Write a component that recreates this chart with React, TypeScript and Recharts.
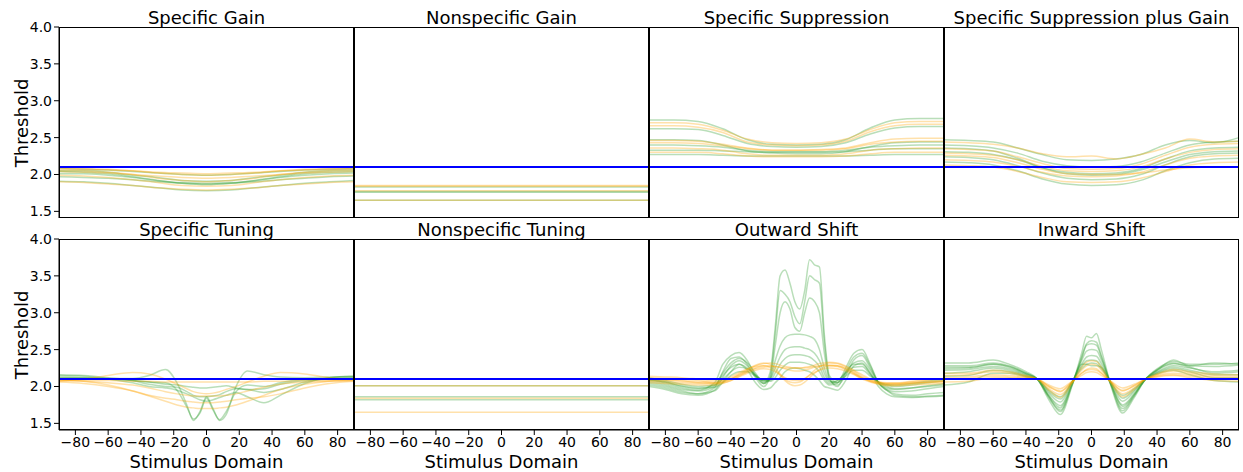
import React from "react";
import { LineChart, Line, XAxis, YAxis, ReferenceLine } from "recharts";

const FONT = "'DejaVu Sans', Verdana, sans-serif";
const BASELINE = 2.1;
const Y_DOMAIN: [number, number] = [1.41, 4.0];
const X_DOMAIN: [number, number] = [-90, 90];
const yTicks = [1.5, 2.0, 2.5, 3.0, 3.5, 4.0];
const xTicks = [-80, -60, -40, -20, 0, 20, 40, 60, 80];

const titles = [
  "Specific Gain",
  "Nonspecific Gain",
  "Specific Suppression",
  "Specific Suppression plus Gain",
  "Specific Tuning",
  "Nonspecific Tuning",
  "Outward Shift",
  "Inward Shift",
];

// --- Specific Gain ---
const specGainX = [-90, -75, -60, -45, -30, -15, 0, 15, 30, 45, 60, 75, 90];
const specGainGreen = [
  [2.08, 2.07, 2.06, 2.04, 2.02, 2.0, 1.99, 2.0, 2.02, 2.04, 2.06, 2.07, 2.08],
  [2.05, 2.05, 2.03, 1.99, 1.96, 1.92, 1.91, 1.92, 1.96, 1.99, 2.03, 2.05, 2.06],
  [2.01, 2.01, 1.99, 1.96, 1.92, 1.89, 1.88, 1.89, 1.92, 1.96, 1.99, 2.01, 2.02],
  [1.97, 1.96, 1.95, 1.93, 1.9, 1.88, 1.87, 1.88, 1.9, 1.93, 1.95, 1.97, 1.98],
  [1.91, 1.9, 1.88, 1.85, 1.82, 1.79, 1.78, 1.79, 1.82, 1.85, 1.88, 1.9, 1.92],
  [2.04, 2.03, 2.01, 1.97, 1.92, 1.88, 1.86, 1.88, 1.92, 1.97, 2.01, 2.03, 2.04],
];
const specGainOrange = [
  [2.09, 2.08, 2.07, 2.05, 2.02, 2.0, 1.99, 2.0, 2.02, 2.05, 2.07, 2.08, 2.09],
  [2.06, 2.05, 2.03, 2.0, 1.95, 1.92, 1.9, 1.92, 1.95, 2.0, 2.03, 2.05, 2.06],
  [2.04, 2.03, 2.02, 2.0, 1.98, 1.96, 1.95, 1.96, 1.98, 2.0, 2.02, 2.03, 2.04],
  [1.99, 1.98, 1.96, 1.93, 1.89, 1.85, 1.84, 1.85, 1.89, 1.93, 1.96, 1.98, 1.99],
  [1.9, 1.89, 1.87, 1.85, 1.82, 1.8, 1.79, 1.8, 1.82, 1.85, 1.87, 1.89, 1.9],
  [2.08, 2.07, 2.06, 2.05, 2.03, 2.02, 2.01, 2.02, 2.03, 2.05, 2.06, 2.07, 2.08],
];

// --- Nonspecific Gain (flat) ---
const nonGainX = [-90, 90];
const nonGainGreen = [
  [1.83, 1.83],
  [1.77, 1.77],
  [1.76, 1.76],
  [1.65, 1.65],
];
const nonGainOrange = [
  [1.85, 1.85],
  [1.84, 1.84],
  [1.78, 1.78],
  [1.65, 1.65],
];

// --- Specific Suppression ---
const specSuppX = [-90, -75, -60, -45, -30, -15, 0, 15, 30, 45, 60, 75, 90];
const specSuppGreen = [
  [2.74, 2.74, 2.72, 2.62, 2.47, 2.41, 2.4, 2.41, 2.47, 2.63, 2.74, 2.76, 2.76],
  [2.62, 2.62, 2.61, 2.53, 2.42, 2.38, 2.37, 2.38, 2.43, 2.55, 2.63, 2.65, 2.65],
  [2.47, 2.47, 2.46, 2.4, 2.32, 2.29, 2.28, 2.28, 2.31, 2.38, 2.43, 2.44, 2.44],
  [2.4, 2.4, 2.39, 2.37, 2.33, 2.31, 2.31, 2.31, 2.33, 2.37, 2.39, 2.4, 2.4],
  [2.33, 2.33, 2.33, 2.32, 2.31, 2.3, 2.3, 2.3, 2.31, 2.33, 2.35, 2.35, 2.35],
  [2.27, 2.27, 2.27, 2.26, 2.25, 2.25, 2.25, 2.25, 2.25, 2.26, 2.27, 2.27, 2.27],
];
const specSuppOrange = [
  [2.7, 2.7, 2.68, 2.6, 2.48, 2.43, 2.42, 2.43, 2.48, 2.61, 2.7, 2.72, 2.72],
  [2.66, 2.66, 2.64, 2.57, 2.44, 2.4, 2.39, 2.4, 2.45, 2.58, 2.66, 2.68, 2.68],
  [2.46, 2.46, 2.45, 2.41, 2.36, 2.33, 2.33, 2.34, 2.36, 2.43, 2.48, 2.49, 2.49],
  [2.36, 2.36, 2.35, 2.33, 2.28, 2.26, 2.26, 2.26, 2.28, 2.33, 2.35, 2.36, 2.36],
  [2.3, 2.3, 2.3, 2.28, 2.25, 2.24, 2.24, 2.24, 2.25, 2.28, 2.3, 2.3, 2.3],
  [2.43, 2.43, 2.42, 2.39, 2.35, 2.33, 2.33, 2.33, 2.35, 2.41, 2.44, 2.45, 2.45],
];

// --- Specific Suppression plus Gain ---
const suppGainX = [-90, -75, -60, -45, -30, -15, 0, 15, 30, 45, 60, 75, 90];
const suppGainGreen = [
  [2.47, 2.46, 2.44, 2.36, 2.27, 2.2, 2.19, 2.21, 2.27, 2.4, 2.46, 2.43, 2.5],
  [2.4, 2.39, 2.36, 2.29, 2.18, 2.12, 2.1, 2.11, 2.17, 2.29, 2.4, 2.44, 2.45],
  [2.31, 2.3, 2.27, 2.2, 2.09, 2.03, 2.01, 2.02, 2.08, 2.21, 2.32, 2.36, 2.37],
  [2.24, 2.23, 2.2, 2.12, 2.02, 1.95, 1.93, 1.94, 2.0, 2.13, 2.24, 2.28, 2.29],
  [2.17, 2.16, 2.13, 2.05, 1.94, 1.87, 1.85, 1.86, 1.92, 2.05, 2.16, 2.21, 2.22],
  [2.36, 2.35, 2.32, 2.22, 2.09, 2.01, 1.99, 2.0, 2.06, 2.17, 2.27, 2.31, 2.32],
];
const suppGainOrange = [
  [2.44, 2.43, 2.41, 2.36, 2.28, 2.24, 2.25, 2.21, 2.27, 2.36, 2.48, 2.44, 2.45],
  [2.35, 2.34, 2.32, 2.24, 2.15, 2.08, 2.07, 2.08, 2.14, 2.26, 2.37, 2.41, 2.42],
  [2.29, 2.28, 2.26, 2.2, 2.11, 2.05, 2.04, 2.05, 2.1, 2.21, 2.3, 2.34, 2.35],
  [2.2, 2.19, 2.17, 2.11, 2.03, 1.98, 1.97, 1.98, 2.03, 2.13, 2.22, 2.25, 2.26],
  [2.13, 2.12, 2.1, 2.04, 1.96, 1.9, 1.89, 1.9, 1.95, 2.04, 2.13, 2.16, 2.17],
  [2.26, 2.25, 2.23, 2.16, 2.07, 2.01, 2.0, 2.0, 2.02, 2.06, 2.09, 2.1, 2.1],
];

// --- Specific Tuning ---
const specTuneX = [-90, -75, -60, -45, -35, -25, -18, -12, -8, -4, 0, 4, 8, 12, 18, 25, 35, 45, 60, 75, 90];
const specTuneGreen = [
  [2.13, 2.12, 2.11, 2.11, 2.15, 2.23, 2.05, 1.75, 1.54, 1.66, 1.86, 1.7, 1.54, 1.62, 2.0, 2.21, 2.16, 2.13, 2.12, 2.13, 2.13],
  [2.11, 2.11, 2.1, 2.08, 2.06, 2.05, 1.95, 1.72, 1.56, 1.64, 1.84, 1.68, 1.55, 1.66, 1.93, 2.02, 2.0, 2.05, 2.1, 2.11, 2.11],
  [2.15, 2.14, 2.1, 2.05, 2.0, 1.98, 1.95, 1.9, 1.86, 1.82, 1.8, 1.82, 1.85, 1.88, 1.92, 1.86, 1.78, 1.88, 2.04, 2.12, 2.14],
  [2.12, 2.12, 2.11, 2.08, 2.06, 2.03, 2.02, 2.0, 1.99, 1.98, 1.98, 1.99, 2.0, 2.01, 1.98, 1.96, 1.97, 2.03, 2.08, 2.1, 2.12],
  [2.16, 2.15, 2.12, 2.08, 2.03, 2.0, 1.99, 1.93, 1.88, 1.86, 1.86, 1.87, 1.89, 1.93, 1.97, 1.96, 1.92, 1.96, 2.06, 2.12, 2.14],
];
const specTuneOrange = [
  [2.09, 2.07, 2.02, 1.94, 1.87, 1.8, 1.75, 1.72, 1.71, 1.7, 1.7, 1.7, 1.71, 1.72, 1.75, 1.8, 1.88, 1.96, 2.03, 2.07, 2.09],
  [2.08, 2.07, 2.05, 2.02, 1.98, 1.93, 1.9, 1.88, 1.87, 1.87, 1.87, 1.87, 1.87, 1.88, 1.9, 1.94, 1.99, 2.03, 2.06, 2.07, 2.08],
  [2.07, 2.1, 2.15, 2.19, 2.17, 2.1, 2.03, 1.97, 1.93, 1.91, 1.9, 1.91, 1.93, 1.96, 2.0, 2.06, 2.14, 2.19, 2.17, 2.12, 2.1],
  [2.06, 2.04, 2.0, 1.94, 1.88, 1.84, 1.82, 1.8, 1.79, 1.78, 1.78, 1.78, 1.79, 1.8, 1.82, 1.84, 1.86, 1.9, 1.98, 2.04, 2.07],
  [2.08, 2.08, 2.08, 2.07, 2.07, 2.06, 2.06, 2.06, 2.06, 2.06, 2.06, 2.06, 2.06, 2.06, 2.06, 2.06, 2.07, 2.07, 2.08, 2.08, 2.08],
];

// --- Nonspecific Tuning (flat) ---
const nonTuneX = [-90, 90];
const nonTuneGreen = [
  [2.01, 2.01],
  [1.86, 1.86],
  [1.82, 1.82],
];
const nonTuneOrange = [
  [2.01, 2.01],
  [1.84, 1.84],
  [1.65, 1.65],
];

// --- Outward Shift ---
const outShiftX = [-90, -80, -70, -60, -50, -45, -40, -35, -30, -25, -20, -16, -13, -10, -7, -4, -1, 2, 5, 8, 11, 14, 17, 20, 25, 30, 35, 40, 45, 50, 55, 60, 70, 80, 90];
const outShiftGreen = [
  [2.08, 2.04, 1.98, 1.95, 2.05, 2.3, 2.42, 2.46, 2.35, 2.15, 2.04, 2.2, 2.8, 3.5, 3.58, 3.4, 3.15, 3.05, 3.3, 3.72, 3.65, 3.62, 2.7, 2.15, 2.05, 2.25, 2.45, 2.5, 2.3, 2.05, 1.95, 1.9, 1.88, 1.9, 1.92],
  [2.02, 1.98, 1.92, 1.9, 1.98, 2.2, 2.38, 2.4, 2.3, 2.12, 2.0, 2.15, 2.7, 3.3, 3.25, 3.15, 2.95, 2.85, 3.15, 3.5, 3.45, 3.4, 2.6, 2.12, 2.0, 2.2, 2.4, 2.45, 2.28, 2.05, 1.95, 1.88, 1.86, 1.87, 1.88],
  [2.1, 2.06, 2.0, 1.97, 2.02, 2.18, 2.32, 2.38, 2.32, 2.18, 2.05, 2.12, 2.55, 3.0, 3.15, 3.05, 2.8, 2.75, 3.0, 3.2, 3.15, 3.0, 2.45, 2.1, 2.02, 2.15, 2.36, 2.42, 2.25, 2.06, 2.0, 1.97, 1.98, 2.0, 2.02],
  [2.0, 1.96, 1.9, 1.88, 1.95, 2.12, 2.28, 2.35, 2.28, 2.14, 2.04, 2.1, 2.35, 2.55, 2.66, 2.7, 2.71, 2.71, 2.7, 2.68, 2.64, 2.5, 2.25, 2.08, 2.05, 2.18, 2.32, 2.35, 2.22, 2.05, 1.96, 1.93, 1.94, 1.97, 2.0],
  [2.06, 2.02, 1.96, 1.94, 2.0, 2.15, 2.26, 2.3, 2.25, 2.15, 2.07, 2.1, 2.25, 2.4, 2.5, 2.53, 2.54, 2.54, 2.52, 2.5, 2.45, 2.35, 2.18, 2.06, 2.08, 2.2, 2.3, 2.3, 2.18, 2.04, 1.98, 1.96, 1.98, 2.01, 2.04],
  [2.12, 2.08, 2.03, 2.0, 2.02, 2.1, 2.2, 2.26, 2.24, 2.16, 2.08, 2.08, 2.18, 2.3, 2.38, 2.42, 2.43, 2.43, 2.42, 2.4, 2.35, 2.27, 2.12, 2.04, 2.08, 2.18, 2.26, 2.27, 2.16, 2.06, 2.02, 2.0, 2.02, 2.05, 2.08],
  [2.09, 2.06, 2.01, 1.98, 1.99, 2.05, 2.15, 2.2, 2.2, 2.14, 2.08, 2.07, 2.12, 2.22, 2.29, 2.33, 2.33, 2.33, 2.32, 2.3, 2.27, 2.2, 2.08, 2.02, 2.05, 2.14, 2.22, 2.22, 2.14, 2.06, 2.03, 2.02, 2.04, 2.07, 2.1],
  [2.04, 2.0, 1.94, 1.9, 1.94, 2.06, 2.2, 2.3, 2.22, 2.05, 1.96, 1.98, 2.05, 2.12, 2.2, 2.24, 2.25, 2.24, 2.22, 2.2, 2.15, 2.08, 2.0, 1.98, 1.95, 2.08, 2.28, 2.32, 2.18, 2.0, 1.9, 1.86, 1.85, 1.86, 1.87],
];
const outShiftOrange = [
  [2.12, 2.11, 2.1, 2.08, 2.05, 2.06, 2.1, 2.16, 2.22, 2.28, 2.31, 2.32, 2.31, 2.29, 2.27, 2.26, 2.25, 2.25, 2.26, 2.27, 2.29, 2.31, 2.32, 2.33, 2.32, 2.28, 2.22, 2.16, 2.1, 2.06, 2.04, 2.04, 2.06, 2.08, 2.09],
  [2.08, 2.08, 2.07, 2.05, 2.04, 2.05, 2.08, 2.14, 2.2, 2.25, 2.28, 2.26, 2.22, 2.15, 2.08, 2.03, 2.01, 2.02, 2.06, 2.12, 2.18, 2.23, 2.26, 2.28, 2.28, 2.25, 2.19, 2.12, 2.07, 2.04, 2.02, 2.02, 2.04, 2.06, 2.07],
  [2.05, 2.04, 2.03, 2.02, 2.02, 2.04, 2.08, 2.13, 2.18, 2.22, 2.24, 2.23, 2.2, 2.16, 2.12, 2.09, 2.08, 2.08, 2.11, 2.15, 2.19, 2.22, 2.24, 2.25, 2.24, 2.21, 2.16, 2.1, 2.06, 2.03, 2.01, 2.01, 2.02, 2.03, 2.04],
  [2.1, 2.09, 2.08, 2.06, 2.06, 2.08, 2.13, 2.19, 2.24, 2.27, 2.28, 2.28, 2.27, 2.26, 2.25, 2.25, 2.25, 2.25, 2.25, 2.26, 2.27, 2.28, 2.29, 2.29, 2.28, 2.24, 2.18, 2.12, 2.08, 2.05, 2.04, 2.04, 2.05, 2.06, 2.07],
  [2.14, 2.13, 2.12, 2.1, 2.08, 2.08, 2.11, 2.17, 2.23, 2.29, 2.32, 2.3, 2.25, 2.17, 2.1, 2.06, 2.05, 2.06, 2.1, 2.16, 2.22, 2.27, 2.3, 2.32, 2.31, 2.27, 2.21, 2.14, 2.09, 2.06, 2.05, 2.05, 2.07, 2.09, 2.11],
  [2.07, 2.06, 2.05, 2.04, 2.04, 2.06, 2.1, 2.15, 2.2, 2.24, 2.26, 2.27, 2.27, 2.26, 2.24, 2.22, 2.21, 2.21, 2.22, 2.24, 2.26, 2.27, 2.28, 2.28, 2.27, 2.23, 2.17, 2.11, 2.07, 2.04, 2.03, 2.03, 2.04, 2.05, 2.06],
];

// --- Inward Shift ---
const inShiftX = [-90, -75, -60, -50, -40, -33, -26, -19, -12, -6, -3, 0, 3, 6, 12, 19, 26, 33, 40, 50, 60, 75, 90];
const inShiftGreen = [
  [2.32, 2.32, 2.36, 2.3, 2.2, 2.1, 1.82, 1.62, 2.0, 2.45, 2.68, 2.66, 2.72, 2.5, 2.0, 1.64, 1.85, 2.1, 2.24, 2.34, 2.3, 2.3, 2.32],
  [2.28, 2.28, 2.32, 2.28, 2.18, 2.1, 1.85, 1.68, 2.02, 2.4, 2.58, 2.62, 2.6, 2.42, 2.02, 1.7, 1.88, 2.1, 2.22, 2.31, 2.28, 2.27, 2.29],
  [2.22, 2.23, 2.27, 2.24, 2.16, 2.1, 1.88, 1.74, 2.04, 2.35, 2.48, 2.5, 2.49, 2.36, 2.03, 1.75, 1.9, 2.1, 2.2, 2.28, 2.25, 2.2, 2.22],
  [2.18, 2.2, 2.25, 2.22, 2.15, 2.1, 1.91, 1.79, 2.05, 2.3, 2.4, 2.42, 2.41, 2.31, 2.04, 1.8, 1.93, 2.1, 2.19, 2.26, 2.22, 2.16, 2.16],
  [2.14, 2.15, 2.22, 2.2, 2.14, 2.1, 1.93, 1.83, 2.06, 2.27, 2.35, 2.36, 2.35, 2.27, 2.05, 1.84, 1.95, 2.1, 2.18, 2.24, 2.2, 2.12, 2.12],
  [2.26, 2.26, 2.3, 2.26, 2.17, 2.1, 1.87, 1.71, 2.02, 2.3, 2.3, 2.28, 2.28, 2.26, 2.02, 1.73, 1.89, 2.1, 2.22, 2.36, 2.28, 2.32, 2.3],
  [2.02, 2.06, 2.18, 2.18, 2.13, 2.1, 1.95, 1.86, 2.06, 2.24, 2.3, 2.32, 2.31, 2.24, 2.05, 1.88, 1.97, 2.1, 2.17, 2.22, 2.16, 2.08, 2.06],
  [2.24, 2.25, 2.3, 2.27, 2.18, 2.1, 1.86, 1.66, 2.01, 2.38, 2.56, 2.58, 2.56, 2.4, 2.01, 1.67, 1.87, 2.1, 2.23, 2.32, 2.26, 2.18, 2.2],
];
const inShiftOrange = [
  [2.12, 2.13, 2.16, 2.15, 2.13, 2.1, 2.0, 1.94, 2.06, 2.18, 2.23, 2.25, 2.24, 2.18, 2.06, 1.95, 2.01, 2.1, 2.15, 2.18, 2.16, 2.13, 2.12],
  [2.15, 2.16, 2.2, 2.18, 2.14, 2.1, 1.97, 1.89, 2.05, 2.22, 2.28, 2.3, 2.29, 2.22, 2.05, 1.9, 1.98, 2.1, 2.16, 2.21, 2.18, 2.15, 2.14],
  [2.1, 2.11, 2.14, 2.13, 2.12, 2.1, 2.02, 1.97, 2.07, 2.15, 2.19, 2.2, 2.19, 2.15, 2.07, 1.98, 2.03, 2.1, 2.14, 2.16, 2.14, 2.11, 2.1],
  [2.18, 2.18, 2.22, 2.2, 2.15, 2.1, 1.95, 1.85, 2.04, 2.26, 2.33, 2.35, 2.34, 2.26, 2.04, 1.86, 1.96, 2.1, 2.17, 2.23, 2.2, 2.17, 2.16],
  [2.06, 2.07, 2.12, 2.12, 2.11, 2.1, 2.0, 1.93, 2.06, 2.18, 2.22, 2.23, 2.22, 2.18, 2.06, 1.94, 2.01, 2.1, 2.13, 2.15, 2.12, 2.08, 2.07],
];

type Panel = { title: string; xs: number[]; green: number[][]; orange: number[][] };

const panels: Panel[] = [
  { title: titles[0], xs: specGainX, green: specGainGreen, orange: specGainOrange },
  { title: titles[1], xs: nonGainX, green: nonGainGreen, orange: nonGainOrange },
  { title: titles[2], xs: specSuppX, green: specSuppGreen, orange: specSuppOrange },
  { title: titles[3], xs: suppGainX, green: suppGainGreen, orange: suppGainOrange },
  { title: titles[4], xs: specTuneX, green: specTuneGreen, orange: specTuneOrange },
  { title: titles[5], xs: nonTuneX, green: nonTuneGreen, orange: nonTuneOrange },
  { title: titles[6], xs: outShiftX, green: outShiftGreen, orange: outShiftOrange },
  { title: titles[7], xs: inShiftX, green: inShiftGreen, orange: inShiftOrange },
];

// layout (page pixels)
const PLOT_LEFT = 59;
const PLOT_W = 295;
const PLOT_H = 191;
const ROW_TOP = [27, 239];
const AXIS_W = 59;
const AXIS_H = 45;
const PAD_TOP = 10;
const PAD_RIGHT = 6;

const GREEN = "#2a9a2a";
const ORANGE = "#ffa500";

function toRows(p: Panel) {
  return p.xs.map((x, i) => {
    const row: Record<string, number> = { x };
    p.green.forEach((c, k) => (row[`g${k}`] = c[i]));
    p.orange.forEach((c, k) => (row[`o${k}`] = c[i]));
    return row;
  });
}

const fmtX = (v: number) => (v < 0 ? `\u2212${Math.abs(v)}` : `${v}`);

function PanelChart({ panel, index }: { panel: Panel; index: number }) {
  const col = index % 4;
  const row = Math.floor(index / 4);
  const left = col === 0 ? AXIS_W : 0;
  const bottom = row === 1 ? AXIS_H : 0;
  const plotX = PLOT_LEFT + col * PLOT_W;
  const plotY = ROW_TOP[row];
  const data = toRows(panel);
  const tickStyle = { fill: "#000", fontSize: 14, fontFamily: FONT };

  return (
    <>
      <div
        style={{
          position: "absolute",
          left: plotX,
          top: plotY - 18,
          width: PLOT_W,
          textAlign: "center",
          fontFamily: FONT,
          fontSize: 18,
          lineHeight: "18px",
          color: "#000",
          whiteSpace: "nowrap",
        }}
      >
        {panel.title}
      </div>
      <div style={{ position: "absolute", left: plotX - left, top: plotY - PAD_TOP }}>
        <LineChart
          width={PLOT_W + left + PAD_RIGHT}
          height={PLOT_H + PAD_TOP + bottom}
          data={data}
          margin={{ top: PAD_TOP, right: PAD_RIGHT, bottom: 0, left: 0 }}
        >
          <XAxis
            dataKey="x"
            type="number"
            domain={X_DOMAIN}
            ticks={xTicks}
            interval={0}
            hide={row === 0}
            height={AXIS_H}
            tick={tickStyle}
            tickFormatter={fmtX}
            tickSize={5}
            tickLine={{ stroke: "#000" }}
            axisLine={{ stroke: "#000" }}
          />
          <YAxis
            type="number"
            domain={Y_DOMAIN}
            ticks={yTicks}
            interval={0}
            hide={col !== 0}
            width={AXIS_W}
            tick={tickStyle}
            tickFormatter={(v: number) => v.toFixed(1)}
            tickSize={5}
            tickLine={{ stroke: "#000" }}
            axisLine={{ stroke: "#000" }}
            allowDataOverflow
          />
          {panel.green.map((_, k) => (
            <Line
              key={`g${k}`}
              dataKey={`g${k}`}
              type="monotone"
              stroke={GREEN}
              strokeOpacity={0.33}
              strokeWidth={1.5}
              dot={false}
              isAnimationActive={false}
            />
          ))}
          {panel.orange.map((_, k) => (
            <Line
              key={`o${k}`}
              dataKey={`o${k}`}
              type="monotone"
              stroke={ORANGE}
              strokeOpacity={0.33}
              strokeWidth={1.5}
              dot={false}
              isAnimationActive={false}
            />
          ))}
          <ReferenceLine y={BASELINE} stroke="#0000ff" strokeWidth={2} />
        </LineChart>
      </div>
      <div
        style={{
          position: "absolute",
          left: plotX,
          top: plotY,
          width: PLOT_W,
          height: PLOT_H,
          border: "1px solid #000",
          boxSizing: "border-box",
          pointerEvents: "none",
        }}
      />
      {col === 0 && (
        <div
          style={{
            position: "absolute",
            left: 21 - PLOT_H / 2,
            top: plotY + PLOT_H / 2 - 9,
            width: PLOT_H,
            height: 18,
            lineHeight: "18px",
            textAlign: "center",
            fontFamily: FONT,
            fontSize: 18,
            transform: "rotate(-90deg)",
            color: "#000",
          }}
        >
          Threshold
        </div>
      )}
      {row === 1 && (
        <div
          style={{
            position: "absolute",
            left: plotX,
            top: 453,
            width: PLOT_W,
            lineHeight: "18px",
            textAlign: "center",
            fontFamily: FONT,
            fontSize: 18,
            color: "#000",
          }}
        >
          Stimulus Domain
        </div>
      )}
    </>
  );
}

export default function App() {
  return (
    <div style={{ position: "absolute", left: 0, top: 0, width: 1243, height: 472, background: "#fff" }}>
      {panels.map((p, i) => (
        <PanelChart key={p.title} panel={p} index={i} />
      ))}
    </div>
  );
}
